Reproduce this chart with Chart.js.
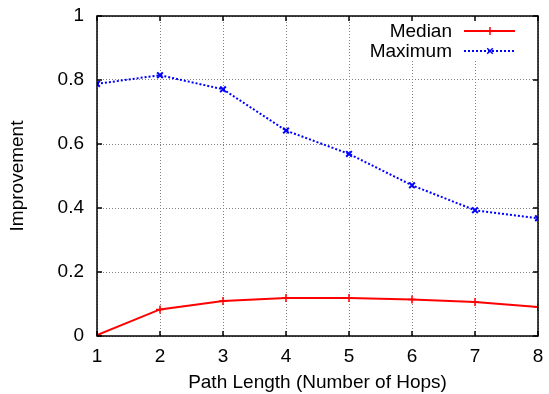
<!DOCTYPE html>
<html>
<head>
<meta charset="utf-8">
<script src="https://cdn.jsdelivr.net/npm/chart.js@4"></script>
<style>
  body { margin: 0; background: #fff; }
</style>
</head>
<body>
<canvas id="hopsChart" width="549" height="394"></canvas>
<script>
// data
const hops = [1, 2, 3, 4, 5, 6, 7, 8];
const median = [0.003, 0.083, 0.109, 0.119, 0.119, 0.114, 0.106, 0.091];
const maximum = [0.788, 0.815, 0.771, 0.642, 0.569, 0.471, 0.393, 0.368];
const yTicks = [0, 0.2, 0.4, 0.6, 0.8, 1];

const FONT = 'Liberation Sans, Arial, Helvetica, sans-serif';
const FS = 19;

// gnuplot-ish frame: border all round, inward ticks, legend inside the plot
const gnuplotFrame = {
    id: 'gnuplotFrame',
    beforeDatasetsDraw(chart) {
        const { ctx, chartArea: a } = chart;
        ctx.save();
        // legend, blanking the grid behind it
        const rows = [
            { label: 'Median', ds: chart.data.datasets[0] },
            { label: 'Maximum', ds: chart.data.datasets[1] }
        ];
        ctx.fillStyle = '#fff';
        ctx.fillRect(366, a.top + 3, a.right - 366 - 3, 42);
        ctx.font = FS + 'px ' + FONT;
        ctx.textAlign = 'right';
        ctx.textBaseline = 'middle';
        rows.forEach((r, i) => {
            const y = a.top + 15 + i * 20;
            ctx.fillStyle = '#000';
            ctx.fillText(r.label, 452, y + 1);
            ctx.strokeStyle = r.ds.borderColor;
            ctx.lineWidth = r.ds.borderWidth;
            ctx.setLineDash(r.ds.borderDash || []);
            ctx.beginPath();
            ctx.moveTo(464, y);
            ctx.lineTo(515, y);
            ctx.stroke();
            ctx.setLineDash([]);
            const c = 490, s = r.ds.pointRadius;
            ctx.lineWidth = 1.5;
            ctx.beginPath();
            if (r.ds.pointStyle === 'cross') {
                ctx.moveTo(c - s, y); ctx.lineTo(c + s, y);
                ctx.moveTo(c, y - s); ctx.lineTo(c, y + s);
            } else {
                ctx.moveTo(c - s * 0.7, y - s * 0.7); ctx.lineTo(c + s * 0.7, y + s * 0.7);
                ctx.moveTo(c - s * 0.7, y + s * 0.7); ctx.lineTo(c + s * 0.7, y - s * 0.7);
            }
            ctx.stroke();
        });
        ctx.restore();
    },
    afterDraw(chart) {
        const { ctx, chartArea: a, scales } = chart;
        ctx.save();
        ctx.strokeStyle = '#000';
        ctx.lineWidth = 1.5;
        ctx.strokeRect(a.left, a.top, a.right - a.left, a.bottom - a.top);
        ctx.beginPath();
        const t = 5;
        scales.x.ticks.forEach(tk => {
            const x = scales.x.getPixelForValue(tk.value);
            ctx.moveTo(x, a.bottom); ctx.lineTo(x, a.bottom - t);
            ctx.moveTo(x, a.top); ctx.lineTo(x, a.top + t);
        });
        scales.y.ticks.forEach(tk => {
            const y = scales.y.getPixelForValue(tk.value);
            ctx.moveTo(a.left, y); ctx.lineTo(a.left + t, y);
            ctx.moveTo(a.right, y); ctx.lineTo(a.right - t, y);
        });
        ctx.stroke();
        ctx.restore();
    }
};

const ctx = document.getElementById('hopsChart').getContext('2d');
const hopsChart = new Chart(ctx, {
    type: 'line',
    data: {
        datasets: [
            {
                label: 'Median',
                data: hops.map((h, i) => ({ x: h, y: median[i] })),
                borderColor: '#ff0000',
                backgroundColor: '#ff0000',
                borderWidth: 2,
                pointStyle: 'cross',
                pointRadius: 4,
                pointBorderWidth: 1.5,
                tension: 0
            },
            {
                label: 'Maximum',
                data: hops.map((h, i) => ({ x: h, y: maximum[i] })),
                borderColor: '#0000ff',
                backgroundColor: '#0000ff',
                borderWidth: 2,
                borderDash: [2, 2],
                pointStyle: 'crossRot',
                pointRadius: 4,
                pointBorderWidth: 2,
                tension: 0
            }
        ]
    },
    options: {
        responsive: false,
        animation: false,
        layout: { padding: { top: 16, right: 11, left: 0, bottom: 0 } },
        plugins: {
            legend: { display: false },
            tooltip: { enabled: false }
        },
        scales: {
            x: {
                type: 'linear',
                min: 1,
                max: 8,
                afterBuildTicks: s => { s.ticks = hops.map(v => ({ value: v })); },
                afterFit: s => { s.height = 58; s.paddingLeft = 0; s.paddingRight = 0; },
                grid: { color: '#808080', lineWidth: 1, drawTicks: false },
                border: { display: false, dash: [1, 2] },
                ticks: {
                    color: '#000',
                    padding: 9,
                    font: { family: FONT, size: FS }
                },
                title: {
                    display: true,
                    text: 'Path Length (Number of Hops)',
                    color: '#000',
                    padding: { top: 2, bottom: 0 },
                    font: { family: FONT, size: FS }
                }
            },
            y: {
                min: 0,
                max: 1,
                afterBuildTicks: s => { s.ticks = yTicks.map(v => ({ value: v })); },
                afterFit: s => { s.width = 97; s.paddingTop = 0; s.paddingBottom = 0; },
                grid: { color: '#808080', lineWidth: 1, drawTicks: false },
                border: { display: false, dash: [1, 2] },
                ticks: {
                    color: '#000',
                    padding: 13,
                    font: { family: FONT, size: FS },
                    callback: v => String(v)
                },
                title: {
                    display: true,
                    text: 'Improvement',
                    color: '#000',
                    padding: { top: 6, bottom: 0 },
                    font: { family: FONT, size: FS }
                }
            }
        }
    },
    plugins: [gnuplotFrame]
});
</script>
</body>
</html>
